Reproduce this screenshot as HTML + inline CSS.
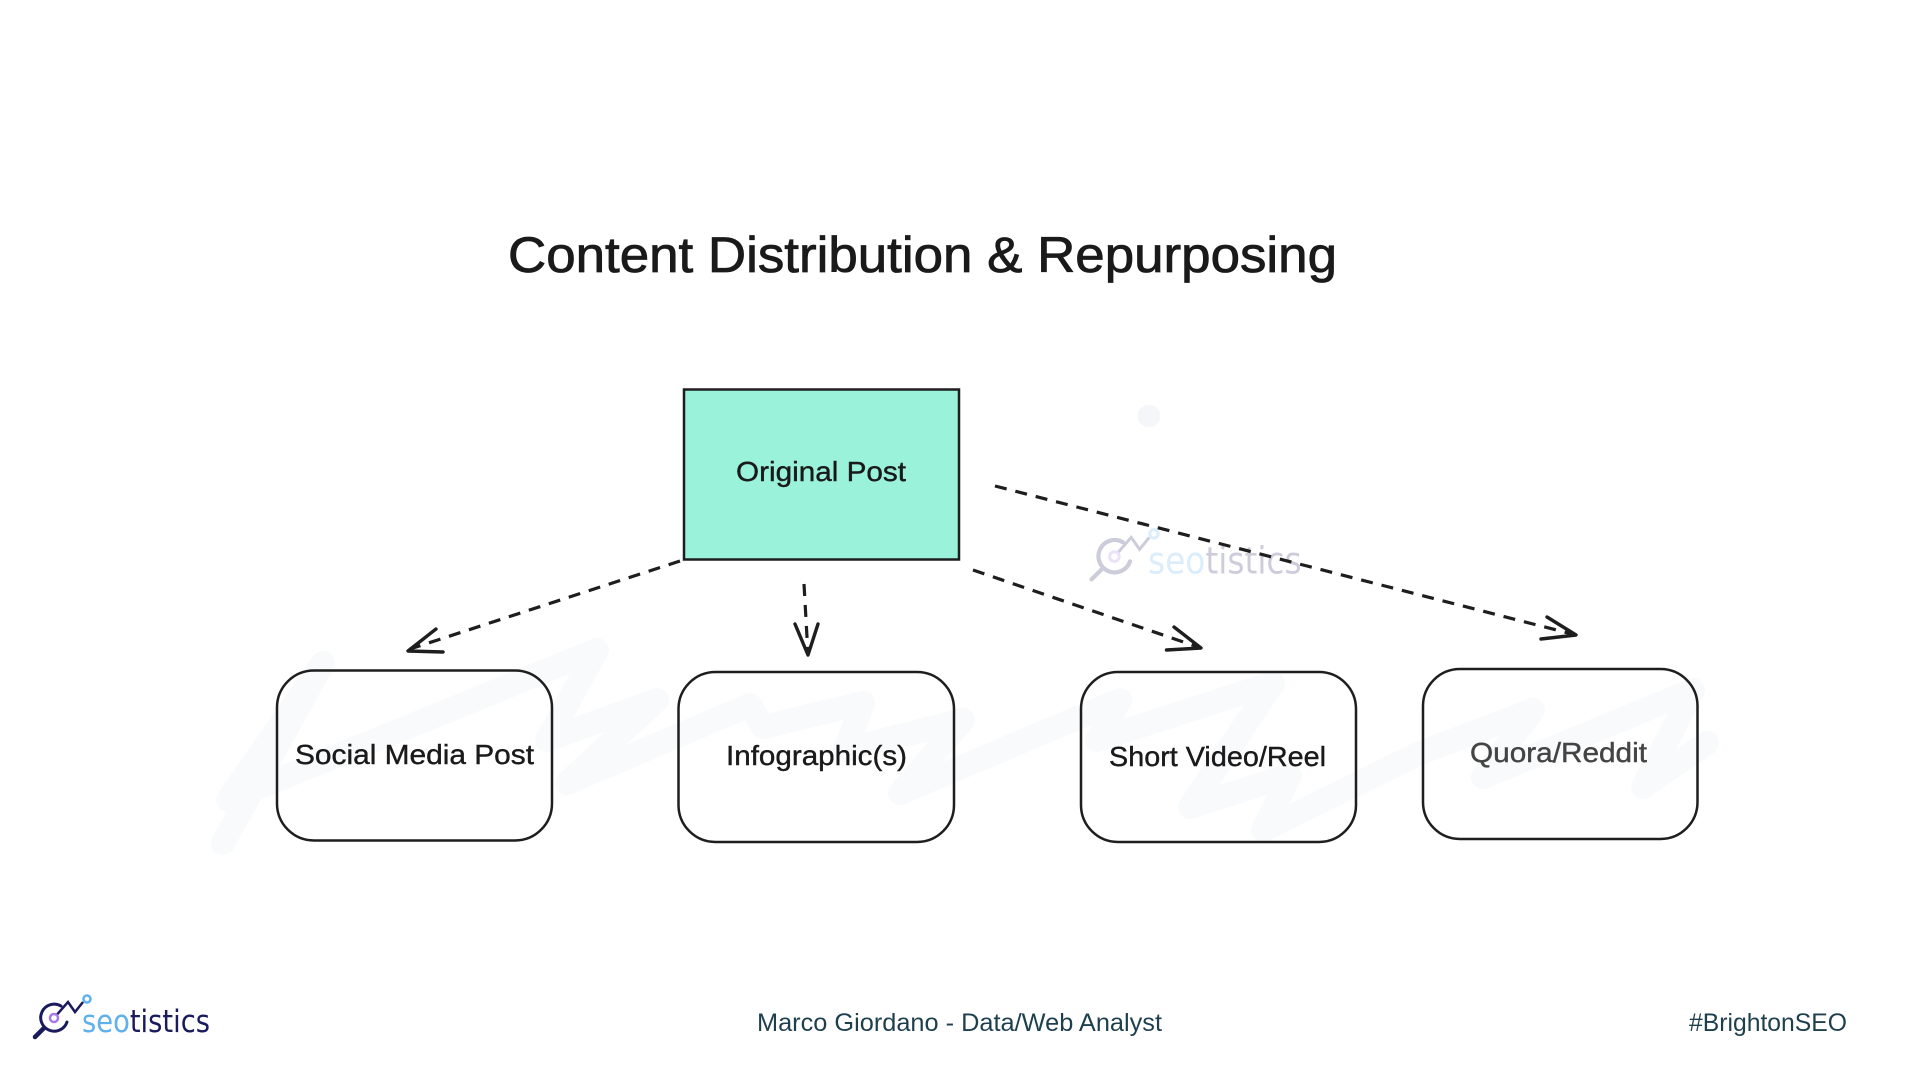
<!DOCTYPE html>
<html><head><meta charset="utf-8"><title>Content Distribution &amp; Repurposing</title>
<style>html,body{margin:0;padding:0;background:#fff;width:1920px;height:1080px;overflow:hidden}svg{display:block}
.h{font-family:"Liberation Sans",sans-serif;fill:#1a1a1a;stroke:#1a1a1a;stroke-width:.4}
.f{font-family:"Liberation Sans",sans-serif;fill:#1e3f4d;font-size:25px}
.l{font-family:"DejaVu Sans",sans-serif;font-size:31px}</style></head>
<body>
<svg width="1920" height="1080" viewBox="0 0 1920 1080" xmlns="http://www.w3.org/2000/svg">
<rect width="1920" height="1080" fill="#fff"/>
<!-- background scribble -->
<path d="M223 843L323 663L228 800L597 650L547 740L657 700L567 783L750 705L763 727L863 703L845 750L963 720L900 793L1120 700L1097 740L1273 683L1190 807L1290 775L1263 830L1420 753L1533 710L1483 777L1693 690L1643 787L1707 743" fill="none" stroke="#f9fafb" stroke-width="24" stroke-linecap="round" stroke-linejoin="round"/>
<ellipse cx="1149" cy="416" rx="11.500" ry="11" fill="#f5f6f9"/>
<!-- watermark -->
<g opacity=".22" transform="translate(1088 523) scale(1.2) translate(-32 -990)">
<path d="M61 1006A13.500 13.500 0 1 0 67 1022M44 1028L35 1037" fill="none" stroke="#1a1a5e" stroke-width="3.500" stroke-linecap="round"/>
<path d="M54 1018L68 1002L75 1012L83 1002" fill="none" stroke="#1a1a5e" stroke-width="2.500"/>
<circle cx="54" cy="1018" r="4" fill="#fff" stroke="#a67be8" stroke-width="2.500"/>
<circle cx="87" cy="999" r="3.500" fill="#fff" stroke="#5fb0ee" stroke-width="2.500"/>
<text class="l" x="82" y="1032" textLength="128" lengthAdjust="spacingAndGlyphs"><tspan fill="#5fb0ee">seo</tspan><tspan fill="#1a1a5e">tistics</tspan></text>
</g>
<!-- title -->
<text class="h" x="508" y="272" font-size="50" textLength="829" lengthAdjust="spacingAndGlyphs" style="stroke-width:.8">Content Distribution &amp; Repurposing</text>
<!-- nodes -->
<rect x="684" y="389.500" width="275" height="170" fill="#99f2d9" stroke="#1e1e1e" stroke-width="2.500"/>
<text class="h" x="736" y="481" font-size="28" textLength="170" lengthAdjust="spacingAndGlyphs">Original Post</text>
<g fill="none" stroke="#1e1e1e" stroke-width="2.500">
<rect x="277" y="670.500" width="275" height="170" rx="37"/>
<rect x="678.500" y="672" width="275.500" height="170" rx="37"/>
<rect x="1081" y="672" width="275" height="170" rx="37"/>
<rect x="1423" y="669" width="274.500" height="170" rx="37"/>
</g>
<text class="h" x="295" y="764" font-size="28" textLength="239" lengthAdjust="spacingAndGlyphs">Social Media Post</text>
<text class="h" x="726" y="765" font-size="28" textLength="181" lengthAdjust="spacingAndGlyphs">Infographic(s)</text>
<text class="h" x="1109" y="766" font-size="28" textLength="217" lengthAdjust="spacingAndGlyphs">Short Video/Reel</text>
<text class="h" x="1470" y="762" font-size="28" textLength="177" lengthAdjust="spacingAndGlyphs" style="fill:#444;stroke:#444">Quora/Reddit</text>
<!-- connectors -->
<g fill="none" stroke="#1e1e1e" stroke-width="3.200" stroke-dasharray="12 9">
<path d="M680 561L410 649"/>
<path d="M804 584L808 655"/>
<path d="M973 570L1201 648"/>
<path d="M995 486L1576 635"/>
</g>
<g fill="none" stroke="#1e1e1e" stroke-width="3.400" stroke-linecap="round" stroke-linejoin="round">
<path d="M436 629L408 651L443 652"/>
<path d="M795 624L808 655L818 624"/>
<path d="M1174 627L1201 648L1166.500 650"/>
<path d="M1547 617L1576 635L1541 639"/>
</g>
<!-- logo -->
<g>
<path d="M61 1006A13.500 13.500 0 1 0 67 1022" fill="none" stroke="#1a1a5e" stroke-width="3" stroke-linecap="round"/>
<path d="M44 1028L35 1037" fill="none" stroke="#1a1a5e" stroke-width="4.500" stroke-linecap="round"/>
<path d="M54 1018L68 1002L75 1012L83 1002" fill="none" stroke="#1a1a5e" stroke-width="2.500"/>
<circle cx="54" cy="1018" r="4" fill="#fff" stroke="#a67be8" stroke-width="2.500"/>
<circle cx="87" cy="999" r="3.500" fill="#fff" stroke="#5fb0ee" stroke-width="2.500"/>
<text class="l" x="82" y="1032" textLength="128" lengthAdjust="spacingAndGlyphs"><tspan fill="#5fb0ee">seo</tspan><tspan fill="#1a1a5e">tistics</tspan></text>
</g>
<!-- footer -->
<text class="f" x="757" y="1031" textLength="405" lengthAdjust="spacingAndGlyphs">Marco Giordano - Data/Web Analyst</text>
<text class="f" x="1689" y="1031" textLength="158" lengthAdjust="spacingAndGlyphs">#BrightonSEO</text>
</svg>
</body></html>
